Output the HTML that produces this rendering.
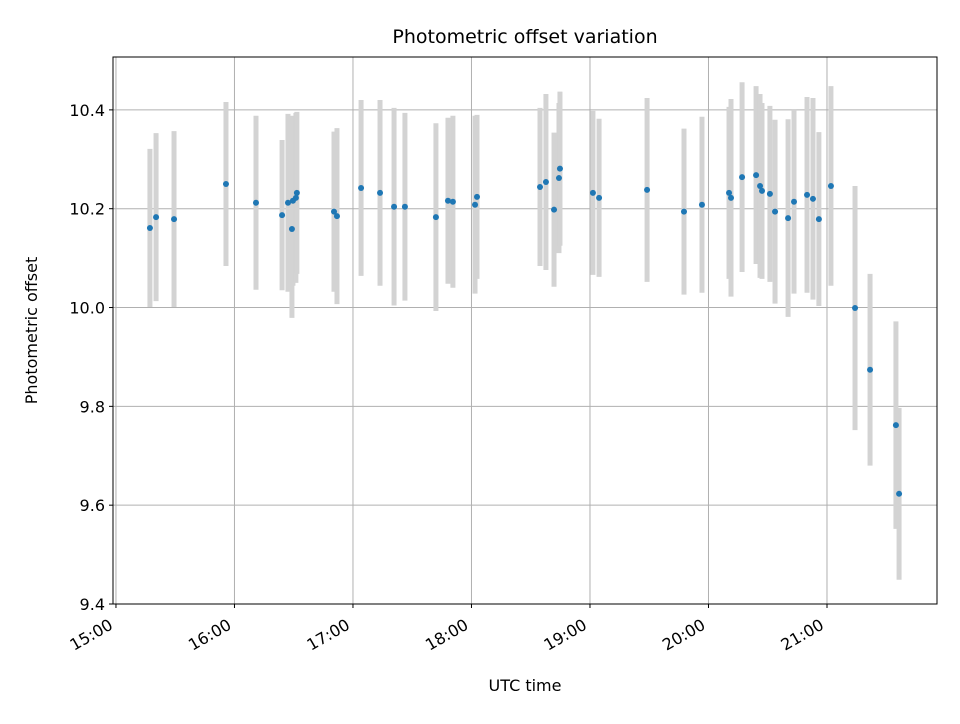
<!DOCTYPE html>
<html><head><meta charset="utf-8"><style>
body{margin:0;background:#fff;font-family:"DejaVu Sans","Liberation Sans",sans-serif}
</style></head><body>
<svg id="chart" width="960" height="720" xmlns="http://www.w3.org/2000/svg" font-family="DejaVu Sans, Liberation Sans, sans-serif"></svg>
<script>
const minutesSince1500=[17.2,20.3,29.4,55.7,70.9,84.1,87.1,89.1,89.6,91.1,91.6,110.4,111.9,124.1,133.7,140.8,146.3,162.0,168.1,170.6,181.8,182.8,214.7,217.7,221.8,224.3,224.8,241.5,244.6,268.9,287.6,296.7,310.4,311.4,317.0,324.1,326.1,327.1,331.1,333.7,340.3,343.3,349.9,352.9,355.9,362.0,374.2,381.8,394.9,396.5];
const offsetValues=[10.161,10.183,10.179,10.250,10.212,10.187,10.212,10.159,10.216,10.222,10.232,10.194,10.185,10.242,10.232,10.204,10.204,10.183,10.216,10.214,10.208,10.224,10.244,10.254,10.198,10.262,10.281,10.232,10.222,10.238,10.194,10.208,10.232,10.222,10.264,10.268,10.246,10.236,10.230,10.194,10.181,10.214,10.228,10.220,10.179,10.246,9.999,9.874,9.762,9.623];
const offsetErrors=[0.160,0.170,0.178,0.166,0.176,0.152,0.180,0.180,0.172,0.172,0.164,0.162,0.178,0.178,0.188,0.200,0.190,0.190,0.168,0.174,0.180,0.166,0.160,0.178,0.156,0.152,0.156,0.166,0.160,0.186,0.168,0.178,0.174,0.200,0.192,0.180,0.186,0.178,0.178,0.186,0.200,0.186,0.198,0.204,0.176,0.202,0.247,0.194,0.210,0.174];
const yTicks=[9.4,9.6,9.8,10.0,10.2,10.4];
const xTickMinutes=[0,60,120,180,240,300,360];
const xTickLabels=["15:00","16:00","17:00","18:00","19:00","20:00","21:00"];

const L=113,R=937,T=57,B=604;
const xMin=-1.5,xMax=415.7,yMin=9.4,yMax=10.507;
const X=m=>L+(m-xMin)/(xMax-xMin)*(R-L);
const Y=v=>B-(v-yMin)/(yMax-yMin)*(B-T);
const svg=document.getElementById('chart');
const NS='http://www.w3.org/2000/svg';
function mk(tag,attrs,parent){const e=document.createElementNS(NS,tag);for(const k in attrs)e.setAttribute(k,attrs[k]);(parent||svg).appendChild(e);return e;}

const grid=mk('g',{});


xTickMinutes.forEach(m=>{const l=mk('line',{x1:X(m),x2:X(m),y1:T,y2:B,stroke:'#b0b0b0','stroke-width':1},grid);

});
yTicks.forEach(v=>{const l=mk('line',{x1:L,x2:R,y1:Y(v),y2:Y(v),stroke:'#b0b0b0','stroke-width':1},grid);

});

const eb=mk('g',{});


minutesSince1500.forEach((m,i)=>{const l=mk('line',{x1:X(m),x2:X(m),y1:Y(offsetValues[i]-offsetErrors[i]),y2:Y(offsetValues[i]+offsetErrors[i]),stroke:'#d3d3d3','stroke-width':5},eb);

});
const pts=mk('g',{});


minutesSince1500.forEach((m,i)=>{const c=mk('circle',{cx:X(m),cy:Y(offsetValues[i]),r:3,fill:'#1f77b4'},pts);

});

const frame=mk('rect',{x:L,y:T,width:R-L,height:B-T,fill:'none',stroke:'#000','stroke-width':1});



yTicks.forEach(v=>{mk('line',{x1:L-4,x2:L,y1:Y(v),y2:Y(v),stroke:'#000'});
const t=mk('text',{x:L-8,y:Y(v)+6,'text-anchor':'end','font-size':16,fill:'#000'});t.textContent=v.toFixed(1);

});
xTickMinutes.forEach((m,i)=>{mk('line',{x1:X(m),x2:X(m),y1:B,y2:B+4,stroke:'#000'});
const tx=X(m)-2,ty=B+24;
const t=mk('text',{x:tx,y:ty,'text-anchor':'end','font-size':16,fill:'#000',transform:`rotate(-30 ${tx} ${ty})`});t.textContent=xTickLabels[i];

});

const title=mk('text',{x:(L+R)/2,y:43,'text-anchor':'middle','font-size':19,fill:'#000'});title.textContent='Photometric offset variation';


const xt=mk('text',{x:(L+R)/2,y:691,'text-anchor':'middle','font-size':16,fill:'#000'});xt.textContent='UTC time';


const yt=mk('text',{x:37,y:(T+B)/2,'text-anchor':'middle','font-size':16,fill:'#000',transform:`rotate(-90 37 ${(T+B)/2})`});yt.textContent='Photometric offset';


</script>
</body></html>
